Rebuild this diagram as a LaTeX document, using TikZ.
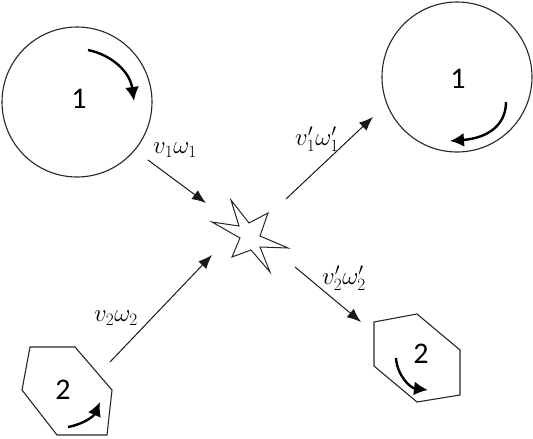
\documentclass[tikz,border=0pt]{standalone}
\usepackage{fontspec}
\newfontfamily\numfont{Carlito}
\usetikzlibrary{arrows.meta}
\begin{document}
\begin{tikzpicture}[x=1pt,y=-1pt,
  body/.style={draw=black!85,line width=1.1pt},
  flow/.style={draw=black!90,line width=1pt,-{Latex[length=14pt,width=11pt]}},
  spin/.style={draw=black,line width=2.4pt,-{Latex[length=14pt,width=14pt]}},
  num/.style={font=\numfont\fontsize{30}{30}\selectfont},
  lab/.style={font=\fontsize{24}{24}\selectfont,inner sep=0pt}]
\useasboundingbox (0,0) rectangle (533,439);
% bodies
\node[body,circle,minimum size=150pt,inner sep=0pt] (c1) at (77,102) {};
\node[body,circle,minimum size=150pt,inner sep=0pt] (c1r) at (457,77) {};
\node[num] (n1) at (79,99) {1};
\node[num] (n1r) at (458,79) {1};
\draw[body] (30,347) -- (75,347) -- (112,390) -- (107,435) -- (57,435) -- (22,390) -- cycle;
\draw[body] (374,322) -- (417,314) -- (460,350) -- (460,395) -- (417,402) -- (374,366) -- cycle;
\node[num] (n2) at (63,390) {2};
\node[num] (n2r) at (421,354) {2};
% star
\draw[body,line width=1pt,fill=white] (212,222) -- (239,226) -- (231,200) -- (249,223) -- (268,213) -- (260,236)
  -- (288,248) -- (260,247) -- (270,272) -- (251,250) -- (232,257) -- (240,238) -- cycle;
\coordinate (star) at (250,236);
% flow arrows
\coordinate (a1s) at (148,160); \coordinate (a1e) at (206,203);
\coordinate (a2s) at (110,362); \coordinate (a2e) at (212,255);
\coordinate (a3s) at (286,199); \coordinate (a3e) at (373,117);
\coordinate (a4s) at (295,267); \coordinate (a4e) at (361,322);
\draw[flow] (a1s) -- (a1e);
\draw[flow] (a2s) -- (a2e);
\draw[flow] (a3s) -- (a3e);
\draw[flow] (a4s) -- (a4e);
% labels
\node[lab] (l1) at (175,150) {$v_1\omega_1$};
\node[lab] (l2) at (116,318) {$v_2\omega_2$};
\node[lab] (l3) at (317,139) {$v_1'\omega_1'$};
\node[lab] (l4) at (344,278) {$v_2'\omega_2'$};
% spin arrows
\coordinate (s1s) at (88,50); \coordinate (s1e) at (134,101);
\draw[spin] (s1s) .. controls (112,55) and (130,72) .. (s1e);
\coordinate (s2s) at (506,102); \coordinate (s2e) at (450,141);
\draw[spin] (s2s) .. controls (506,125) and (488,138) .. (s2e);
\coordinate (s3s) at (68,427); \coordinate (s3e) at (100,402);
\draw[spin] (s3s) .. controls (84,424) and (94,416) .. (s3e);
\coordinate (s4s) at (396,358); \coordinate (s4e) at (428,390);
\draw[spin] (s4s) .. controls (397,375) and (410,388) .. (s4e);
\end{tikzpicture}
\end{document}
